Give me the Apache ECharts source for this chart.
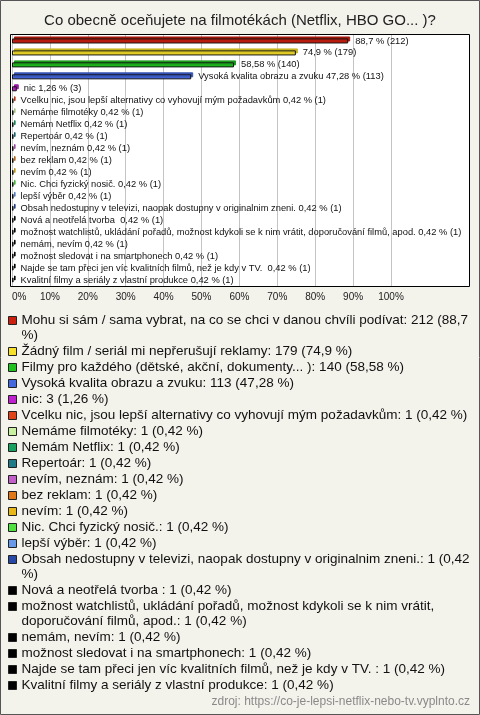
<!DOCTYPE html>
<html>
<head>
<meta charset="utf-8">
<script src="https://cdn.jsdelivr.net/npm/echarts@6/dist/echarts.min.js"></script>
<style>
html,body{margin:0;padding:0;background:#f3f2eb;}
#chart{width:480px;height:715px;}
</style>
</head>
<body>
<div id="chart"></div>
<script>
var titleText = 'Co obecně oceňujete na filmotékách (Netflix, HBO GO... )?';
var sourceText = 'zdroj: https://co-je-lepsi-netflix-nebo-tv.vyplnto.cz';

var categories = [
  'Mohu si sám / sama vybrat, na co se chci v danou chvíli podívat',
  'Žádný film / seriál mi nepřerušují reklamy',
  'Filmy pro každého (dětské, akční, dokumenty... )',
  'Vysoká kvalita obrazu a zvuku',
  'nic',
  'Vcelku nic, jsou lepší alternativy co vyhovují mým požadavkům',
  'Nemáme filmotéky',
  'Nemám Netflix',
  'Repertoár',
  'nevím, neznám',
  'bez reklam',
  'nevím',
  'Nic. Chci fyzický nosič.',
  'lepší výběr',
  'Obsah nedostupny v televizi, naopak dostupny v originalnim zneni.',
  'Nová a neotřelá tvorba ',
  'možnost watchlistů, ukládání pořadů, možnost kdykoli se k nim vrátit, doporučování filmů, apod.',
  'nemám, nevím',
  'možnost sledovat i na smartphonech',
  'Najde se tam přeci jen víc kvalitních filmů, než je kdy v TV. ',
  'Kvalitní filmy a seriály z vlastní produkce'
];
// names shown next to the bars (the three longest show only the value)
var barLabelNames = [
  '', '', '',
  'Vysoká kvalita obrazu a zvuku',
  'nic',
  'Vcelku nic, jsou lepší alternativy co vyhovují mým požadavkům',
  'Nemáme filmotéky',
  'Nemám Netflix',
  'Repertoár',
  'nevím, neznám',
  'bez reklam',
  'nevím',
  'Nic. Chci fyzický nosič.',
  'lepší výběr',
  'Obsah nedostupny v televizi, naopak dostupny v originalnim zneni.',
  'Nová a neotřelá tvorba ',
  'možnost watchlistů, ukládání pořadů, možnost kdykoli se k nim vrátit, doporučování filmů, apod.',
  'nemám, nevím',
  'možnost sledovat i na smartphonech',
  'Najde se tam přeci jen víc kvalitních filmů, než je kdy v TV. ',
  'Kvalitní filmy a seriály z vlastní produkce'
];
var counts = [212, 179, 140, 113, 3, 1, 1, 1, 1, 1, 1, 1, 1, 1, 1, 1, 1, 1, 1, 1, 1];
var percents = [88.7, 74.9, 58.58, 47.28, 1.26, 0.42, 0.42, 0.42, 0.42, 0.42, 0.42, 0.42, 0.42, 0.42, 0.42, 0.42, 0.42, 0.42, 0.42, 0.42, 0.42];
var colors = [
  '#cc1f0f', '#f7e02a', '#1fc21f', '#4468e0', '#c020d0', '#e0421a', '#c8f0a0',
  '#18a060', '#207a88', '#c060c8', '#e07818', '#e8b818', '#50e040', '#6898e8',
  '#2848a8', '#000000', '#000000', '#000000', '#000000', '#000000', '#000000'
];
var xTicks = [0, 10, 20, 30, 40, 50, 60, 70, 80, 90, 100];

var FONT = "'Liberation Sans', Arial, sans-serif";
var LEGEND_FONT_SIZE = 13.5;
var LEGEND_LINE = 15;
var LEGEND_GAP = 1;
var LEGEND_WRAP = 460;
var LEGEND_TOP = 313;

function fmt(v) { return String(v).replace('.', ','); }
function shade(hex, f) {
  var n = parseInt(hex.slice(1), 16);
  var r = Math.round(((n >> 16) & 255) * f), g = Math.round(((n >> 8) & 255) * f), b = Math.round((n & 255) * f);
  return 'rgb(' + r + ',' + g + ',' + b + ')';
}
var measureCtx = document.createElement('canvas').getContext('2d');
function wrapLines(text, fontSize, maxW) {
  measureCtx.font = fontSize + 'px ' + FONT;
  var words = text.split(' ');
  var lines = [], cur = '';
  words.forEach(function (w) {
    var trial = cur === '' ? w : cur + ' ' + w;
    if (cur !== '' && measureCtx.measureText(trial).width > maxW) {
      lines.push(cur);
      cur = w;
    } else {
      cur = trial;
    }
  });
  lines.push(cur);
  return lines;
}
function legendText(i) {
  return categories[i] + ': ' + counts[i] + ' (' + fmt(percents[i]) + ' %)';
}
var legendLines = categories.map(function (c, i) { return wrapLines(legendText(i), LEGEND_FONT_SIZE, LEGEND_WRAP); });

// Split the legend into groups, each starting at a wrapped entry, so the swatch of a
// wrapped entry can sit on its first line (blank leading line trick).
var groups = [];
categories.forEach(function (c, i) {
  if (i === 0 || legendLines[i].length > 1) groups.push([]);
  groups[groups.length - 1].push(i);
});
var legends = [];
var y = LEGEND_TOP;
groups.forEach(function (g) {
  var first = g[0];
  var shift = legendLines[first].length > 1 ? (legendLines[first].length - 1) * LEGEND_LINE : 0;
  legends.push({
    orient: 'vertical',
    left: 8,
    top: y - shift,
    padding: 0,
    itemGap: LEGEND_GAP,
    itemWidth: 8,
    itemHeight: 8,
    icon: 'rect',
    selectedMode: false,
    data: g.map(function (i) { return categories[i]; }),
    itemStyle: { borderColor: '#222', borderWidth: 1, shadowBlur: 0, shadowOffsetX: 0, shadowOffsetY: 0, shadowColor: 'rgba(0,0,0,0)' },
    textStyle: { fontSize: LEGEND_FONT_SIZE, lineHeight: LEGEND_LINE, color: '#111', fontFamily: FONT },
    formatter: function (name) {
      var i = categories.indexOf(name);
      var lines = legendLines[i];
      if (lines.length > 1) {
        var pad = [];
        for (var k = 1; k < lines.length; k++) pad.push('');
        return pad.concat(lines).join('\n');
      }
      return lines[0];
    }
  });
  g.forEach(function (i) { y += legendLines[i].length * LEGEND_LINE + LEGEND_GAP; });
});

var series = categories.map(function (name, i) {
  var data = categories.map(function (c, j) { return j === i ? percents[i] : '-'; });
  return {
    type: 'bar',
    name: name,
    data: data,
    barWidth: 5,
    barGap: '-100%',
    itemStyle: {
      color: colors[i],
      borderColor: '#111',
      borderWidth: 1,
      shadowColor: shade(colors[i], 0.8),
      shadowOffsetX: 2,
      shadowOffsetY: -2,
      shadowBlur: 0
    },
    label: {
      show: true,
      position: 'right',
      distance: 7,
      fontSize: 9.33,
      fontFamily: FONT,
      color: '#111',
      formatter: function () {
        var n = barLabelNames[i];
        return (n ? n + ' ' : '') + fmt(percents[i]) + ' % (' + counts[i] + ')';
      }
    }
  };
});

var splitColors = xTicks.map(function () { return '#c4c4c4'; }).concat(['rgba(0,0,0,0)', 'rgba(0,0,0,0)']);

var chart = echarts.init(document.getElementById('chart'), null, { renderer: 'canvas' });
chart.setOption({
  animation: false,
  backgroundColor: '#f3f2eb',
  textStyle: { fontFamily: FONT },
  title: {
    text: titleText,
    left: 'center',
    top: 13,
    padding: 0,
    textStyle: { fontSize: 15, fontWeight: 'normal', color: '#222', fontFamily: FONT }
  },
  graphic: [
    { type: 'rect', silent: true, z: -10, shape: { x: 0.5, y: 0.5, width: 479, height: 714 },
      style: { fill: 'rgba(0,0,0,0)', stroke: '#555', lineWidth: 1 } },
    { type: 'rect', silent: true, z: -10, shape: { x: 10.5, y: 34.5, width: 459, height: 252 },
      style: { fill: '#ffffff', stroke: '#000', lineWidth: 1 } },
    { type: 'text', silent: true, style: { text: sourceText, x: 470, y: 702, align: 'right', verticalAlign: 'middle',
      font: '12px ' + FONT, fill: '#8a8a8a' } }
  ],
  grid: { left: 12, top: 35, width: 454.8, height: 251, containLabel: false },
  xAxis: {
    type: 'value',
    min: 0,
    max: 120,
    interval: 10,
    axisLine: { show: false },
    axisTick: { show: false },
    splitLine: { show: true, lineStyle: { color: splitColors, width: 1 } },
    axisLabel: {
      margin: 6,
      fontSize: 10,
      color: '#222',
      fontFamily: FONT,
      alignMinLabel: 'left',
      formatter: function (v) { return xTicks.indexOf(v) >= 0 ? v + '%' : ''; }
    }
  },
  yAxis: {
    type: 'category',
    inverse: true,
    data: categories,
    axisLine: { show: false },
    axisTick: { show: false },
    axisLabel: { show: false },
    splitLine: { show: false }
  },
  legend: legends,
  series: series
});
</script>
</body>
</html>
